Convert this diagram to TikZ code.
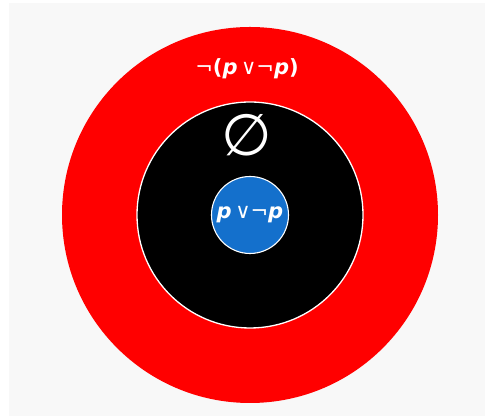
\documentclass[tikz,border=0pt]{standalone}
\usepackage{fontspec}
\setmainfont{DejaVu Sans}
\usepackage{tikz}
\usetikzlibrary{positioning}
\definecolor{ringred}{RGB}{255,0,0}
\definecolor{coreblue}{RGB}{20,112,204}
\definecolor{paper}{RGB}{248,248,248}
\newcommand{\pvar}{{\itshape p}}
\newcommand{\orsym}{{\mdseries∨}}
\newcommand{\notsym}{{\mdseries¬}}

\tikzset{
  disc/.style={circle, inner sep=0pt, outer sep=0pt},
  label text/.style={text=white, inner sep=0pt, font=\fontsize{21}{24}\selectfont\bfseries}
}

\begin{document}
\begin{tikzpicture}[x=1pt, y=1pt]
\useasboundingbox (0,0) rectangle (485,419);
\fill[white] (0,0) rectangle (485,419);
\fill[paper] (9,3) rectangle (485,416);
% rings
\node[disc, fill=ringred, minimum size=376pt] (outer) at (250,204) {};
\node[disc, fill=black, draw=white, line width=1.3pt, minimum size=226pt] (empty) at (outer.center) {};
\node[disc, fill=coreblue, draw=white, line width=1.1pt, minimum size=77pt, label text] (core) at (outer.center) {\pvar\,\orsym\notsym\pvar};
% texts
\node[label text] (negation) at (247,350) {\notsym(\pvar\,\orsym\notsym\pvar)};
\node[label text, font=\fontsize{58}{62}\selectfont] (emptyset) at (247,284) {∅};
\end{tikzpicture}
\end{document}
